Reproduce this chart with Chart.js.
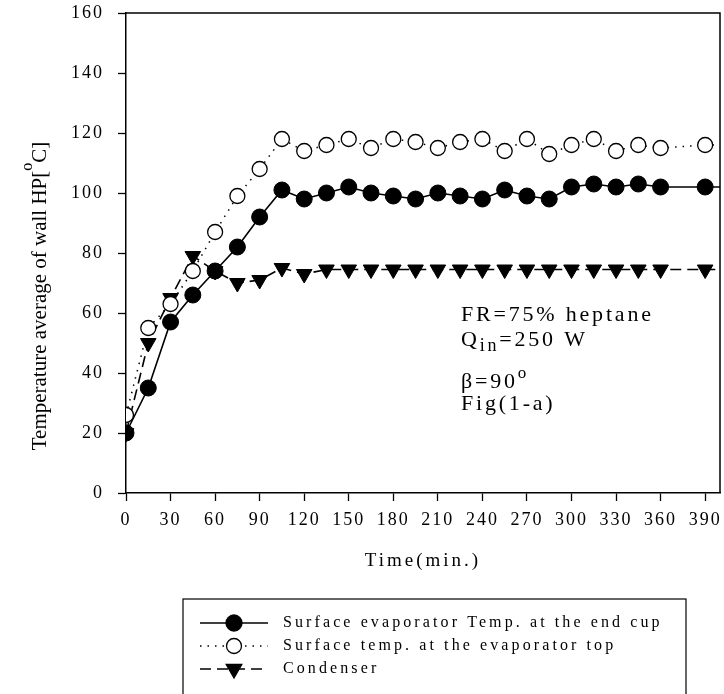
<!DOCTYPE html>
<html>
<head>
<meta charset="utf-8">
<script src="https://cdn.jsdelivr.net/npm/chart.js@4.4.0/dist/chart.umd.min.js"></script>
<style>
  html, body { margin: 0; padding: 0; background: #fff; overflow: hidden; }
  #wrap { width: 724px; height: 694px; overflow: hidden; }
  canvas { display: block; }
</style>
</head>
<body>
<div id="wrap"><canvas id="chart" width="730" height="694"></canvas></div>
<script>
// time in minutes (last point lies past the axis end, line runs off the frame)
const timeMin = [0, 15, 30, 45, 60, 75, 90, 105, 120, 135, 150, 165, 180, 195, 210, 225, 240, 255, 270, 285, 300, 315, 330, 345, 360, 390, 420];
const evapEndCup = [20, 35, 57, 66, 74, 82, 92, 101, 98, 100, 102, 100, 99, 98, 100, 99, 98, 101, 99, 98, 102, 103, 102, 103, 102, 102, 102];
const evapTop = [26, 55, 63, 74, 87, 99, 108, 118, 114, 116, 118, 115, 118, 117, 115, 117, 118, 114, 118, 113, 116, 118, 114, 116, 115, 116, 116];
const condenser = [20, 50, 65, 79, 74, 70, 71, 75, 73, 74.5, 74.5, 74.5, 74.5, 74.5, 74.5, 74.5, 74.5, 74.5, 74.5, 74.5, 74.5, 74.5, 74.5, 74.5, 74.5, 74.5, 74.5];
const seriesNames = ['Surface evaporator Temp. at the end cup', 'Surface temp. at the evaporator top', 'Condenser'];

const serif = '"Liberation Serif", "Times New Roman", serif';

function pts(ys) {
    return timeMin.map((t, i) => ({ x: t, y: ys[i] }));
}

// canvas letter spacing, the original text is spaced out
const spacing = {
    id: 'spacing',
    beforeUpdate(chart) { chart.ctx.letterSpacing = '2px'; },
    beforeDraw(chart) { chart.ctx.letterSpacing = '2px'; }
};

// frame, axis titles, annotation and legend box
const extras = {
    id: 'extras',
    afterDraw(chart) {
        const ctx = chart.ctx;
        const a = chart.chartArea;
        ctx.save();
        ctx.strokeStyle = '#000';
        ctx.lineWidth = 1.5;
        ctx.beginPath();
        ctx.moveTo(a.left, a.top);
        ctx.lineTo(a.right, a.top);
        ctx.lineTo(a.right, a.bottom);
        ctx.stroke();

        ctx.fillStyle = '#000';
        ctx.textBaseline = 'alphabetic';

        // y title with superscript
        ctx.save();
        ctx.translate(46, 296);
        ctx.rotate(-Math.PI / 2);
        ctx.letterSpacing = '0px';
        const p1 = 'Temperature average of wall HP[';
        const p3 = 'C]';
        ctx.font = '21px ' + serif;
        const w1 = ctx.measureText(p1).width;
        const w3 = ctx.measureText(p3).width;
        ctx.font = '16px ' + serif;
        const w2 = ctx.measureText('o').width;
        let x = -(w1 + w2 + w3) / 2;
        ctx.font = '21px ' + serif;
        ctx.textAlign = 'left';
        ctx.fillText(p1, x, 0);
        ctx.font = '16px ' + serif;
        ctx.fillText('o', x + w1, -14);
        ctx.font = '21px ' + serif;
        ctx.fillText(p3, x + w1 + w2, 0);
        ctx.restore();

        // x title
        ctx.letterSpacing = '3px';
        ctx.font = '19px ' + serif;
        ctx.textAlign = 'center';
        ctx.fillText('Time(min.)', (a.left + a.right) / 2, 566);

        // annotation
        ctx.textAlign = 'left';
        ctx.letterSpacing = '2.8px';
        ctx.font = '22px ' + serif;
        const ax = 461;
        ctx.fillText('FR=75% heptane', ax, 321);
        ctx.fillText('Q', ax, 346);
        let qw = ctx.measureText('Q').width;
        ctx.font = '18px ' + serif;
        ctx.fillText('in', ax + qw, 351);
        qw += ctx.measureText('in').width;
        ctx.font = '22px ' + serif;
        ctx.fillText('=250 W', ax + qw, 346);
        ctx.fillText('\u03B2=90', ax, 388);
        const bw = ctx.measureText('\u03B2=90').width;
        ctx.font = '17px ' + serif;
        ctx.fillText('o', ax + bw, 378);
        ctx.font = '22px ' + serif;
        ctx.fillText('Fig(1-a)', ax, 410);

        // legend box
        ctx.lineWidth = 1.2;
        ctx.strokeRect(183, 599, 503, 110);
        const rows = [623, 646, 669];
        const ds = chart.data.datasets;
        ctx.font = '16px ' + serif;
        ctx.letterSpacing = '3.1px';
        rows.forEach((ry, i) => {
            const d = ds[i];
            ctx.save();
            ctx.strokeStyle = '#000';
            ctx.lineWidth = d.borderWidth;
            ctx.setLineDash(d.borderDash || []);
            ctx.beginPath();
            ctx.moveTo(200, ry);
            ctx.lineTo(268, ry);
            ctx.stroke();
            ctx.setLineDash([]);
            ctx.fillStyle = d.pointBackgroundColor;
            ctx.lineWidth = 1.3;
            Chart.helpers.drawPoint(ctx, {
                pointStyle: d.pointStyle,
                rotation: d.pointRotation || 0,
                radius: d.pointRadius,
                borderWidth: 1.3
            }, 234, ry);
            ctx.restore();
            ctx.fillStyle = '#000';
            ctx.textBaseline = 'middle';
            ctx.fillText(seriesNames[i], 283, ry);
        });
        ctx.restore();
    }
};

new Chart(document.getElementById('chart'), {
    type: 'line',
    data: {
        datasets: [
            {
                label: seriesNames[0],
                data: pts(evapEndCup),
                borderColor: '#000',
                borderWidth: 1.6,
                pointStyle: 'circle',
                pointRadius: 8,
                pointBackgroundColor: '#000',
                pointBorderColor: '#000',
                pointBorderWidth: 1
            },
            {
                label: seriesNames[1],
                data: pts(evapTop),
                borderColor: '#000',
                borderWidth: 1.5,
                borderDash: [1.5, 6],
                pointStyle: 'circle',
                pointRadius: 7.5,
                pointBackgroundColor: '#fff',
                pointBorderColor: '#000',
                pointBorderWidth: 1.3
            },
            {
                label: seriesNames[2],
                data: pts(condenser),
                borderColor: '#000',
                borderWidth: 1.6,
                borderDash: [11, 6],
                pointStyle: 'triangle',
                pointRotation: 180,
                pointRadius: 9,
                pointBackgroundColor: '#000',
                pointBorderColor: '#000',
                pointBorderWidth: 1
            }
        ]
    },
    options: {
        responsive: false,
        animation: false,
        layout: { padding: { top: 13, right: 0 } },
        plugins: {
            legend: { display: false },
            tooltip: { enabled: false }
        },
        scales: {
            x: {
                type: 'linear',
                min: 0,
                max: 400,
                afterFit(scale) {
                    scale.height = 201;
                    scale.paddingLeft = 0;
                    scale.paddingRight = 0;
                },
                border: { color: '#000', width: 1.5 },
                grid: { drawOnChartArea: false, color: '#000', tickLength: 8, tickWidth: 1.3 },
                ticks: {
                    stepSize: 30,
                    includeBounds: false,
                    color: '#000',
                    padding: 8,
                    maxRotation: 0,
                    font: { family: serif, size: 18 }
                }
            },
            y: {
                min: 0,
                max: 160,
                afterFit(scale) {
                    scale.width = 126;
                    scale.paddingTop = 0;
                    scale.paddingBottom = 0;
                },
                border: { color: '#000', width: 1.5 },
                grid: { drawOnChartArea: false, color: '#000', tickLength: 8, tickWidth: 1.3 },
                ticks: {
                    stepSize: 20,
                    color: '#000',
                    padding: 14,
                    font: { family: serif, size: 18 }
                }
            }
        }
    },
    plugins: [spacing, extras]
});
</script>
</body>
</html>
